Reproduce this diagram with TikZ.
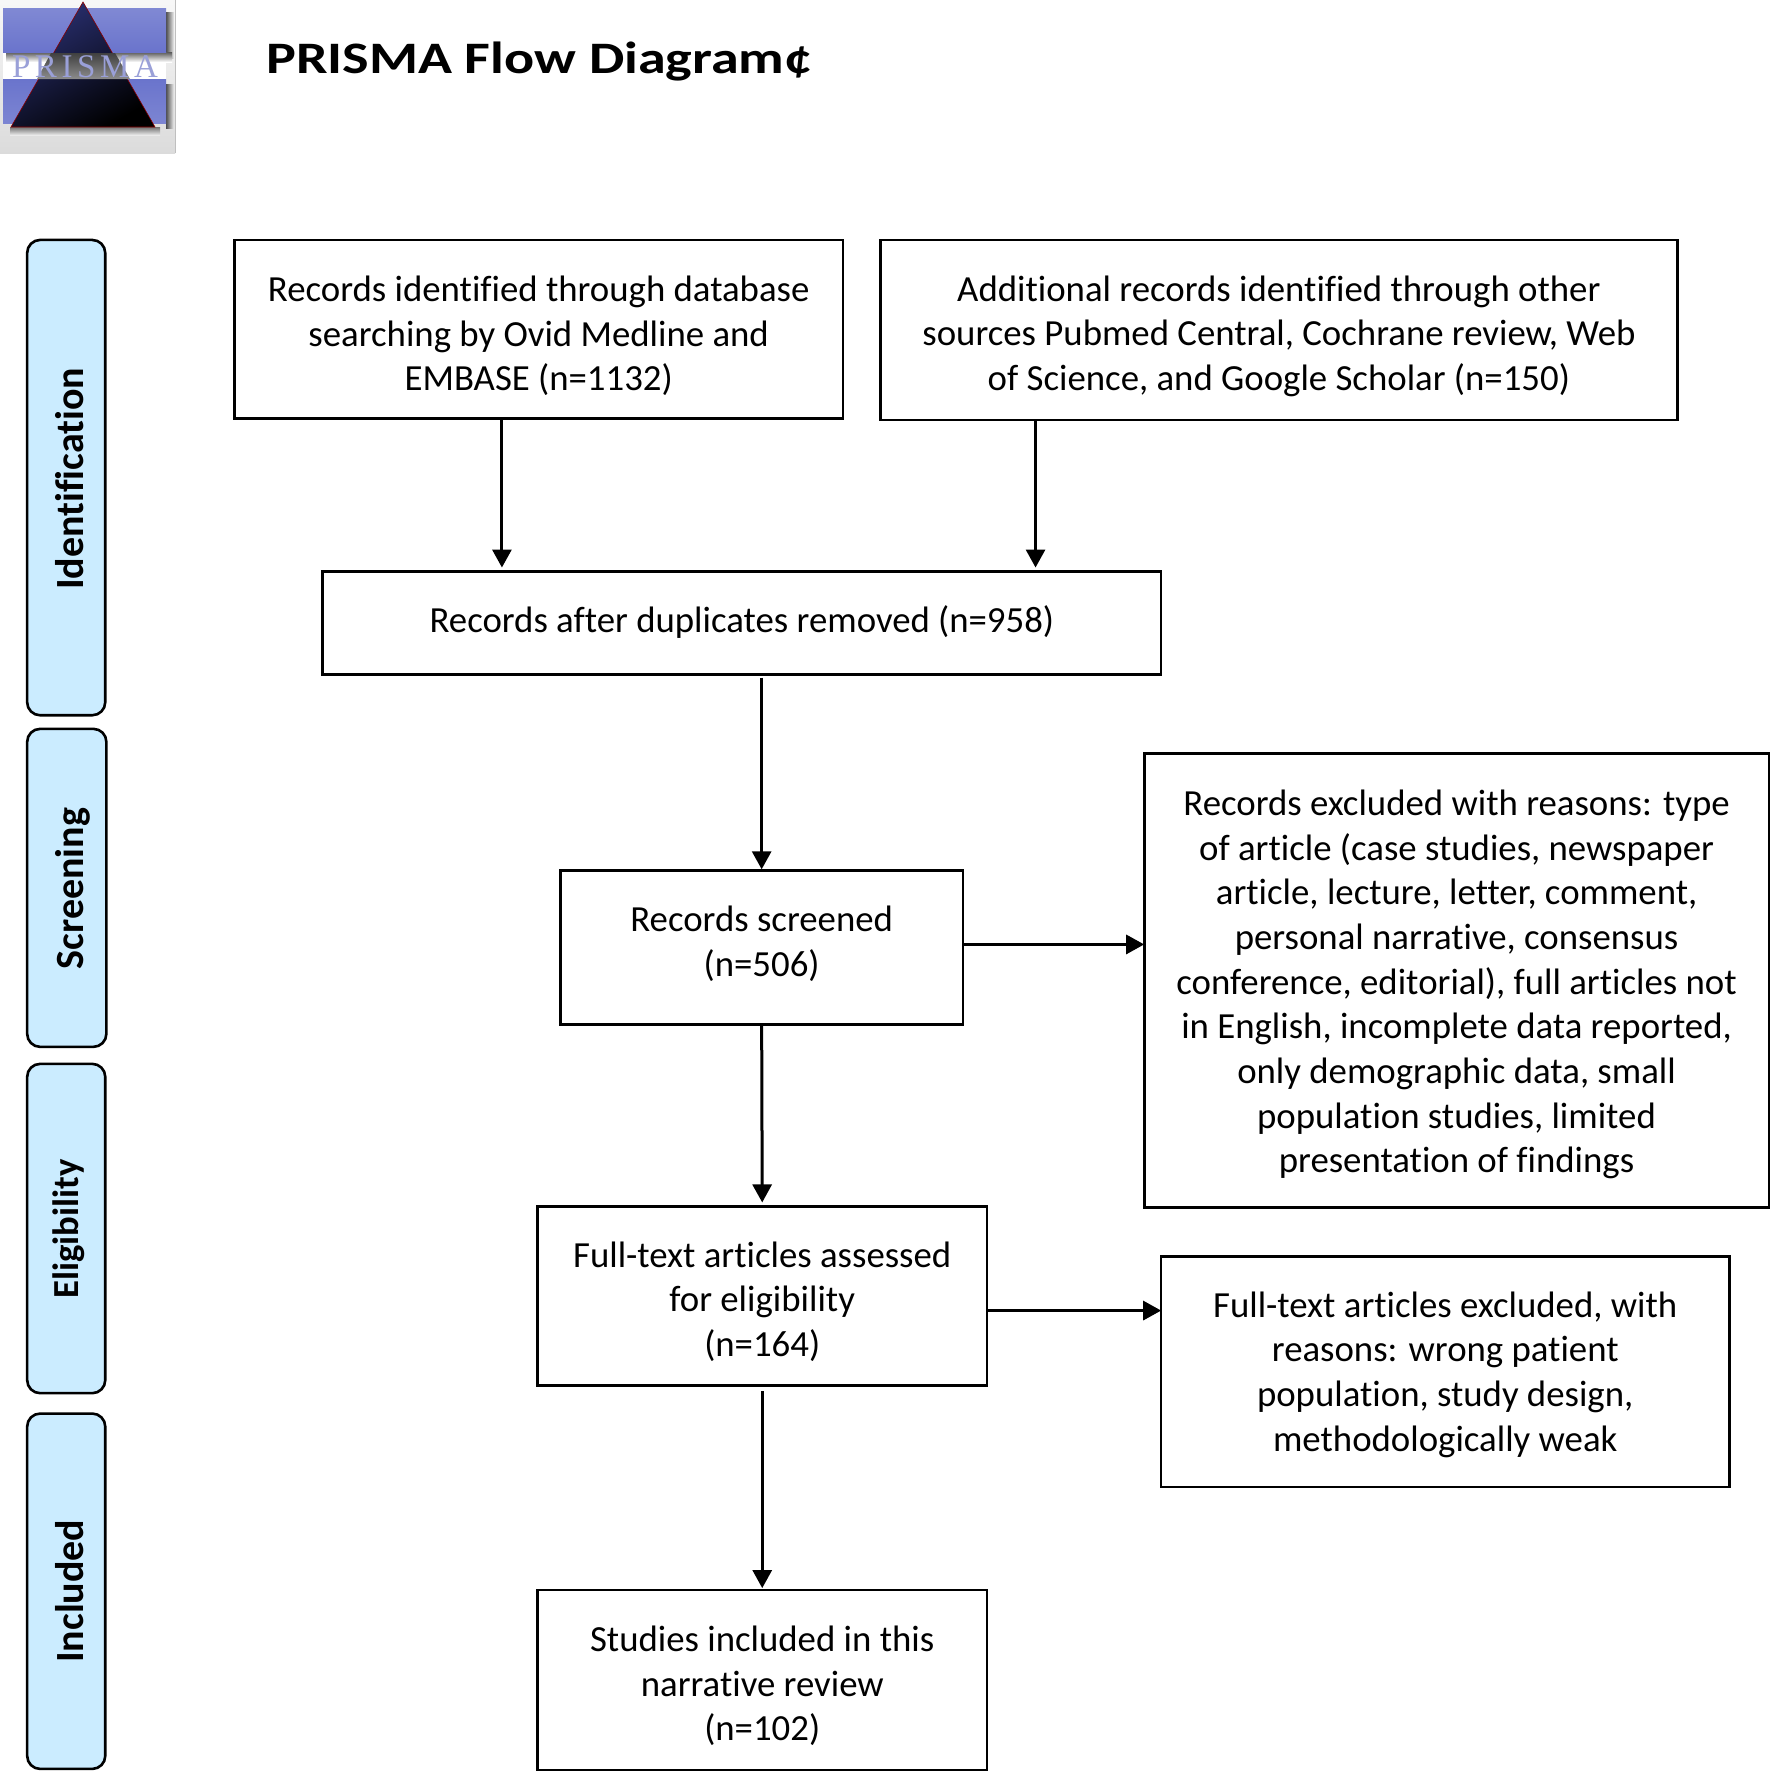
\documentclass[tikz,border=0pt]{standalone}
\usepackage{fontspec}
\setmainfont[Ligatures=NoCommon]{Carlito}
\newfontfamily\logofont{Liberation Serif}
\usetikzlibrary{arrows.meta,calc,shadings}
\definecolor{sidefill}{HTML}{CBECFF}
\definecolor{barblue}{HTML}{6A74CC}
\definecolor{navy}{HTML}{2A3072}
\definecolor{logoletter}{HTML}{9AA0D8}
\tikzset{
  x=1.1317pt,y=-1.1317pt,
  box/.style={draw=black,line width=2.6pt,fill=white,inner sep=0pt,outer sep=0pt,align=center,
    font=\fontsize{36.8}{44.7}\selectfont},
  sidebox/.style={draw=black,line width=2.6pt,fill=sidefill,rounded corners=13pt,inner sep=0pt,outer sep=0pt},
  sidelabel/.style={rotate=90,font=\fontsize{40}{44}\selectfont\bfseries,inner sep=0pt},
  arr/.style={draw=black,line width=3pt,-{Triangle[length=18pt,width=19pt]}},
}
% name, x1, y1, x2, y2, style, downward text shift, lines
\newcommand{\placebox}[8]{%
  \node[#6,minimum width={(#4-#2)*1.1317pt},minimum height={(#5-#3)*1.1317pt}] (#1) at ({(#2+#4)/2},{(#3+#5)/2})
    {\raisebox{-#7pt}[\height][\depth]{\begin{tabular}{@{}c@{}}#8\end{tabular}}};}
\begin{document}
\begin{tikzpicture}
\useasboundingbox (0,0) rectangle (1564,1567.5);
% logo
\begin{scope}[x=1pt,y=-1pt]
  \shade[top color=black!3,bottom color=black!14] (0,0) rectangle (175,153);
  \draw[black!25,line width=1pt] (175,0) -- (175,153);
  \fill[white] (3,52) rectangle (166,80);
  \shade[left color=black!70,right color=black!6] (166,12) rectangle (174,58);
  \shade[left color=black!70,right color=black!6] (166,84) rectangle (174,128);
  \shade[top color=black!65,bottom color=white] (6,52) rectangle (172,62);
  \shade[top color=barblue!85,bottom color=barblue] (3,8) rectangle (166,52);
  \shade[top color=barblue,bottom color=barblue!88] (3,79) rectangle (166,123);
  \shade[top color=black!55,bottom color=black!8] (10,127) rectangle (160,135);
  \shade[top color=navy,bottom color=black,shading angle=30,draw=red!55!black,line width=0.6pt]
     (83,2) -- (155,127) -- (11,127) -- cycle;
  \shade[top color=black!75,bottom color=black!45] (51,53) -- (115,53) -- (130,79) -- (37,79) -- cycle;
  \node[text=logoletter,inner sep=0pt,font=\fontsize{33}{33}\logofont\addfontfeatures{LetterSpace=14}] (logotext) at (85,67) {PRISMA};
\end{scope}
% title
\node[anchor=west,inner sep=0pt,xscale=1.247,font=\fontsize{45}{50}\selectfont\bfseries] (title) at (235,54) {PRISMA Flow Diagram¢};
% side panels
\node[sidebox,minimum width={69*1.1317pt},minimum height={420*1.1317pt}] (sa) at (58.5,422) {};
\node[sidebox,minimum width={70*1.1317pt},minimum height={281*1.1317pt}] (sb) at (59,784.5) {};
\node[sidebox,minimum width={69*1.1317pt},minimum height={291*1.1317pt}] (sc) at (58.5,1085.5) {};
\node[sidebox,minimum width={69*1.1317pt},minimum height={314*1.1317pt}] (sd) at (58.5,1406) {};
\node[sidelabel] (la) at (61.5,423) {Identification};
\node[sidelabel] (lb) at (64,785) {Screening};
\node[sidelabel,font=\fontsize{36.7}{40}\selectfont\bfseries] (lc) at (61,1086) {Eligibility};
\node[sidelabel] (ld) at (61.5,1406) {Included};
% boxes
\placebox{a}{207}{212}{745}{370}{box}{8}{Records identified through database\\searching by Ovid Medline and\\EMBASE (n=1132)}
\placebox{b}{778}{212}{1482}{371}{box}{7}{Additional records identified through other\\sources Pubmed Central, Cochrane review, Web\\of Science, and Google Scholar (n=150)}
\placebox{c}{285}{505}{1026}{596}{box}{1}{Records after duplicates removed (n=958)}
\placebox{d}{495}{769}{851}{905}{box}{-2}{Records screened\\(n=506)}
\placebox{e}{1011}{666}{1563}{1067}{box}{4.5}{Records excluded with reasons: type\\of article (case studies, newspaper\\article, lecture, letter, comment,\\personal narrative, consensus\\conference, editorial), full articles not\\in English, incomplete data reported,\\only demographic data, small\\population studies, limited\\presentation of findings}
\placebox{f}{475}{1066}{872}{1224}{box}{7}{Full-text articles assessed\\for eligibility\\(n=164)}
\placebox{g}{1026}{1110}{1528}{1314}{box}{3.5}{Full-text articles excluded, with\\reasons: wrong patient\\population, study design,\\methodologically weak}
\placebox{h}{475}{1405}{872}{1564}{box}{7}{Studies included in this\\narrative review\\(n=102)}
% connectors
\coordinate (p1) at (443.5,0);
\coordinate (p2) at (915,0);
\coordinate (p3) at (0,834.5);
\coordinate (p4) at (0,1158);
\draw[arr,shorten >=4pt] (a.south -| p1) -- (c.north -| p1);
\draw[arr,shorten >=4pt] (b.south -| p2) -- (c.north -| p2);
\draw[arr,shorten >=1pt,shorten <=3pt] (c.south -| d.north) -- (d.north);
\draw[arr] (d.east |- p3) -- (e.west |- p3);
\draw[arr,shorten >=4pt] (d.south) -- (f.north);
\draw[arr] (f.east |- p4) -- (g.west |- p4);
\draw[arr,shorten >=2pt,shorten <=6pt] (f.south) -- (h.north);
\end{tikzpicture}
\end{document}
